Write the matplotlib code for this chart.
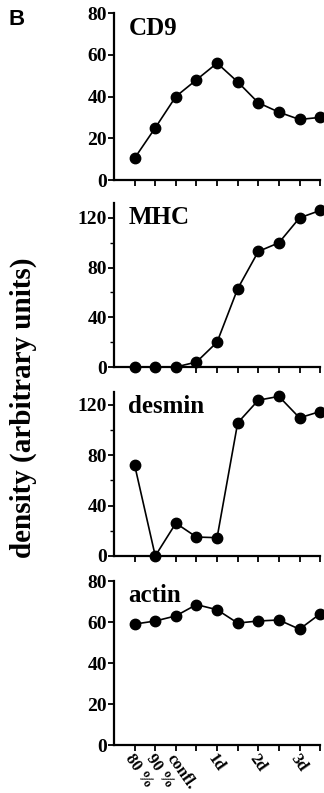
import numpy as np
import matplotlib
matplotlib.use("Agg")
import matplotlib.pyplot as plt
import matplotlib.transforms as mtransforms
from matplotlib.ticker import MultipleLocator

# time points (x positions 1..10)
x_pos = np.arange(1, 11)
tick_pos = [1, 2, 3, 5, 7, 9]
tick_labels = ["80 %", "90 %", "confl.", "1d", "2d", "3d"]

cd9 = [10.5, 25, 40, 48, 56, 47, 37, 32.5, 29, 30]
mhc = [0, 0, 0, 4, 20, 63, 93, 100, 120, 126]
desmin = [72, 0, 26, 15, 14.5, 105.5, 123.5, 126.5, 109.5, 114.5]
actin = [59, 60.5, 63, 68.5, 66, 59.5, 60.5, 61, 56.5, 64]

panels = [
    ("CD9", cd9, 80, 20, None, [0.352, 0.773, 0.636, 0.2106]),
    ("MHC", mhc, 132, 40, 20, [0.352, 0.5372, 0.636, 0.2068]),
    ("desmin", desmin, 130, 40, 20, [0.352, 0.2989, 0.636, 0.2068]),
    ("actin", actin, 80, 20, None, [0.352, 0.0605, 0.636, 0.2068]),
]

SERIF = "Liberation Serif"

fig = plt.figure(figsize=(3.24, 7.93), dpi=100)

for i, (name, vals, ytop, major, minor, rect) in enumerate(panels):
    ax = fig.add_axes(rect)
    ax.plot(x_pos, vals, color="black", lw=1.2, marker="o", ms=7.5,
            clip_on=False, zorder=3)
    ax.set_xlim(0, 10)
    ax.set_ylim(0, ytop)
    for s in ["top", "right"]:
        ax.spines[s].set_visible(False)
    for s in ["left", "bottom"]:
        ax.spines[s].set_linewidth(1.6)
    ax.yaxis.set_major_locator(MultipleLocator(major))
    if minor:
        ax.yaxis.set_minor_locator(MultipleLocator(minor))
    ax.set_xticks(x_pos)
    ax.tick_params(axis="both", which="major", direction="out", length=4,
                   width=1.3, pad=1)
    ax.tick_params(axis="y", which="minor", direction="out", length=3,
                   width=1.0)
    for lab in ax.get_yticklabels():
        lab.set_fontfamily(SERIF)
        lab.set_fontweight("bold")
        lab.set_fontsize(14)
    if i == 3:
        labels = [""] * 10
        for p, t in zip(tick_pos, tick_labels):
            labels[p - 1] = t
        ax.set_xticklabels(labels, rotation=-55, ha="left", va="center",
                           rotation_mode="anchor", fontfamily=SERIF,
                           fontweight="bold", fontsize=12)
        ax.tick_params(axis="x", pad=4)
        shift = mtransforms.ScaledTranslation(-6 / 100, 0, fig.dpi_scale_trans)
        for lab in ax.get_xticklabels():
            lab.set_transform(lab.get_transform() + shift)
    else:
        ax.set_xticklabels([])
    ax.text(0.07, 0.91, name, transform=ax.transAxes, fontfamily=SERIF,
            fontweight="bold", fontsize=18, ha="left", va="center")

fig.text(0.072, 0.486, "density (arbitrary units)", rotation=90,
         fontfamily=SERIF, fontweight="bold", fontsize=21,
         ha="center", va="center")
fig.text(0.025, 0.975, "B", fontfamily="Liberation Sans", fontweight="bold",
         fontsize=16, ha="left", va="center")

fig.savefig("out.png", dpi=100)
